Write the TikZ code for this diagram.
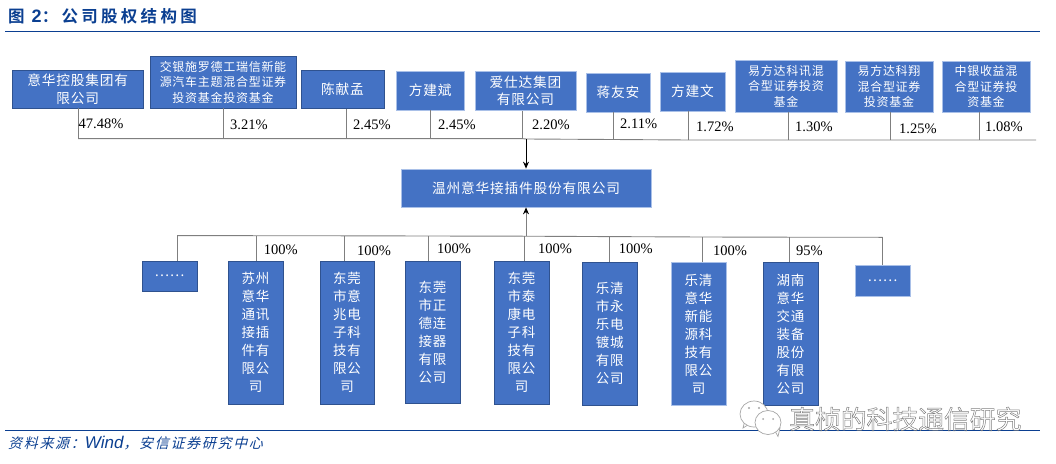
\documentclass[tikz,border=0pt]{standalone}
\usepackage{fontspec}
\usetikzlibrary{arrows.meta}
\setmainfont{Liberation Serif}
\newfontfamily\cjk[LetterSpace=6]{Noto Sans CJK SC}
\newfontfamily\cjkt[LetterSpace=20,BoldFont={Noto Sans CJK SC Bold}]{Noto Sans CJK SC}
\newfontfamily\cjki[FakeSlant=0.25,LetterSpace=12]{Noto Sans CJK SC}
\newfontfamily\cjkw{Noto Sans CJK SC}
\newfontfamily\arial{Liberation Sans}
\definecolor{boxblue}{HTML}{4472C4}
\definecolor{boxedge}{HTML}{2F528F}
\definecolor{boxpale}{HTML}{A9C0E8}
\definecolor{navy}{HTML}{0B3F91}
\definecolor{wire}{HTML}{7F7F7F}
\tikzset{
  co/.style={draw=boxedge,line width=.7pt,fill=boxblue,text=white,inner sep=0pt,align=center},
  pale/.style={draw=boxpale},
  big/.style={co,font=\cjk\fontsize{13.7}{17.6}\selectfont},
  small/.style={co,font=\cjk\fontsize{12}{15.5}\selectfont},
  tall/.style={co,font=\cjk\fontsize{13.5}{18}\selectfont},
  pct/.style={font=\fontsize{14.5}{14.5}\selectfont,anchor=west,inner sep=0pt,text=black},
  wire/.style={draw=wire,line width=.9pt},
  rule/.style={draw=navy,line width=.9pt},
  bubble/.style={draw=black!35,line width=.7pt,fill=white},
}
\newcommand{\bx}[7]{\node[#1,minimum width=#4pt-#2pt,minimum height=#5pt-#3pt] (#6) at ({(#2+#4)/2},{(#3+#5)/2}) {#7};}
\begin{document}
\begin{tikzpicture}[x=1pt,y=-1pt]
\useasboundingbox (0,0) rectangle (1056,463);
% title + rules
\node[anchor=west,inner sep=0pt,text=navy,font=\bfseries\fontsize{16.5}{17}\selectfont] (title) at (8,16) {\cjkt 图 {\arial\fontsize{18}{18}\selectfont 2}：公司股权结构图};
\coordinate (r1a) at (5,31); \coordinate (r1b) at (1040,31);
\coordinate (r2a) at (5,430); \coordinate (r2b) at (1040,430);
\draw[rule] (r1a) -- (r1b);
\draw[rule] (r2a) -- (r2b);
\node[anchor=west,inner sep=0pt,text=navy,font=\fontsize{14}{15}\selectfont] (src) at (8,443) {\cjki 资料来源：{\arial\itshape\fontsize{17}{17}\selectfont Wind}，安信证券研究中心};
% holders
\bx{big}{12}{70}{143.5}{108}{a}{意华控股集团有\\限公司}
\bx{small}{150}{56}{296}{108}{b}{交银施罗德工瑞信新能\\源汽车主题混合型证券\\投资基金投资基金}
\bx{big}{301}{70}{384}{108.5}{c}{陈献孟}
\bx{big,pale}{396.5}{71}{464}{110}{d}{方建斌}
\bx{big,pale}{475}{71}{576}{110.5}{e}{爱仕达集团\\有限公司}
\bx{big,pale}{586}{73}{650}{112}{f}{蒋友安}
\bx{big,pale}{660}{72}{725}{111}{g}{方建文}
\bx{small,pale}{735}{60}{837}{112}{h}{易方达科讯混\\合型证券投资\\基金}
\bx{small,pale}{845}{61}{933}{112}{i}{易方达科翔\\混合型证券\\投资基金}
\bx{small,pale}{942}{61}{1030}{112}{j}{中银收益混\\合型证券投\\资基金}
% company
\bx{big,pale}{401}{169}{651}{207}{m}{温州意华接插件股份有限公司}
% subsidiaries
\bx{big}{142}{261}{197}{291}{s0}{……}
\bx{tall}{228}{261}{283}{404}{s1}{苏州\\意华\\通讯\\接插\\件有\\限公\\司}
\bx{tall}{320}{261}{374}{404}{s2}{东莞\\市意\\兆电\\子科\\技有\\限公\\司}
\bx{tall}{405}{261}{460}{403.5}{s3}{东莞\\市正\\德连\\接器\\有限\\公司}
\bx{tall}{494}{261.3}{549}{404}{s4}{东莞\\市泰\\康电\\子科\\技有\\限公\\司}
\bx{tall}{582.5}{262}{637}{405}{s5}{乐清\\市永\\乐电\\镀城\\有限\\公司}
\bx{tall,pale}{671}{262.7}{726}{405}{s6}{乐清\\意华\\新能\\源科\\技有\\限公\\司}
\bx{tall}{763}{262.7}{818}{405}{s7}{湖南\\意华\\交通\\装备\\股份\\有限\\公司}
\bx{big,pale}{855}{265.7}{910}{296}{s8}{……}
% upper bus
\coordinate (ua) at (78,138.6); \coordinate (ub) at (223,138.6); \coordinate (uc) at (346.5,138.6);
\coordinate (ud) at (430,138.6); \coordinate (ue) at (522,138.6); \coordinate (uf) at (613,139.5);
\coordinate (ug) at (688.6,140); \coordinate (uh) at (788,140); \coordinate (ui) at (890,140);
\coordinate (uj) at (979,140); \coordinate (uend) at (1036,140); \coordinate (um) at (526,139);
\draw[wire] (ua) -- (ub) -- (ue) -- (um) -- (uf) -- (ug) -- (uend);
\foreach \n/\u in {a/ua,b/ub,c/uc,d/ud,e/ue,f/uf,g/ug,h/uh,i/ui,j/uj}{\draw[wire] (\u) -- (\u |- \n.south);}
\draw[black,line width=.9pt,-{Stealth[length=7pt,width=6pt]}] (um) -- (um |- m.north);
% lower bus
\coordinate (la) at (177,235.6); \coordinate (lb) at (256,235.7); \coordinate (lc) at (344.5,235.8);
\coordinate (ld) at (428,236); \coordinate (le) at (524.7,236.2); \coordinate (lm) at (526,236.2);
\coordinate (lf) at (609,236.6); \coordinate (lg) at (702.5,237); \coordinate (lh) at (789,237.2); \coordinate (li) at (882.6,237.3);
\draw[wire] (la) -- (lb) -- (lc) -- (ld) -- (le) -- (lf) -- (lg) -- (lh) -- (li);
\foreach \n/\u in {s0/la,s1/lb,s2/lc,s3/ld,s4/le,s5/lf,s6/lg,s7/lh,s8/li}{\draw[wire] (\u) -- (\u |- \n.north);}
\draw[wire,-{Stealth[length=7pt,width=6pt,black]}] (lm) -- (lm |- m.south);
% percentages
\node[pct] (pa) at (78.5,124) {47.48\%};
\node[pct] (pb) at (230,124.4) {3.21\%};
\node[pct] (pc) at (353,125) {2.45\%};
\node[pct] (pd) at (438,125) {2.45\%};
\node[pct] (pe) at (532,125) {2.20\%};
\node[pct] (pf) at (620,124) {2.11\%};
\node[pct] (pg) at (696,127) {1.72\%};
\node[pct] (ph) at (795,127) {1.30\%};
\node[pct] (pi) at (899,128.5) {1.25\%};
\node[pct] (pj) at (985,127) {1.08\%};
\node[pct] (q1) at (263.7,250) {100\%};
\node[pct] (q2) at (357,250.5) {100\%};
\node[pct] (q3) at (437,249) {100\%};
\node[pct] (q4) at (538,249) {100\%};
\node[pct] (q5) at (618.6,249) {100\%};
\node[pct] (q6) at (713,251) {100\%};
\node[pct] (q7) at (796,250.5) {95\%};
% watermark
\draw[bubble] (745,420) -- (743,428) -- (751,423) -- cycle;
\draw[bubble] (754,414) ellipse[x radius=14pt,y radius=13pt];
\fill[black!35] (749,408) circle (1.1pt) (759,408) circle (1.1pt);
\draw[bubble] (775,431) -- (778,436.5) -- (780,428) -- cycle;
\draw[bubble] (768,422.5) ellipse[x radius=13pt,y radius=12pt];
\fill[black!35] (763,419) circle (1pt) (773,419) circle (1pt);
\node[anchor=west,inner sep=0pt,font=\cjkw\fontsize{25.8}{26}\selectfont] (wm) at (789,419) {\special{pdf:code q 1 Tr 0.5 w 0.5 G}真桢的科技通信研究\special{pdf:code 0 Tr Q}};
\end{tikzpicture}
\end{document}
